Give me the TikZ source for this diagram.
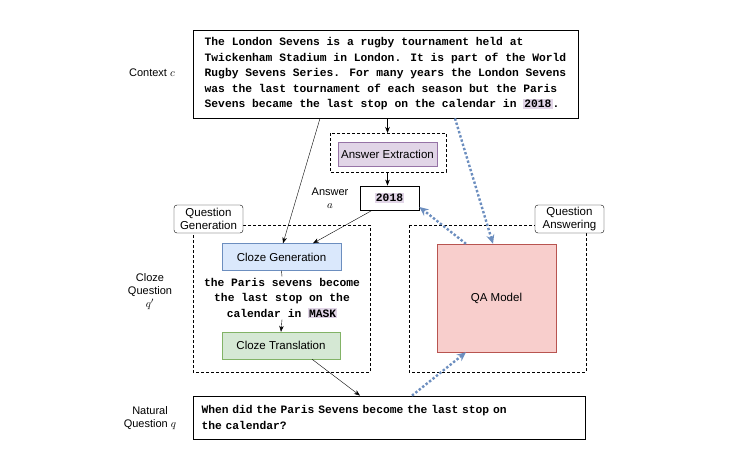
\documentclass[tikz,border=0pt]{standalone}
\usepackage{fontspec}
\setmainfont{Liberation Sans}
\newfontfamily\codefont[WordSpace={1,0,0}]{Liberation Mono}
\usetikzlibrary{positioning,arrows.meta}
\definecolor{hlpurple}{HTML}{E1D5E7}
\definecolor{purpleline}{HTML}{9673A6}
\definecolor{bluefill}{HTML}{DAE8FC}
\definecolor{blueline}{HTML}{6C8EBF}
\definecolor{greenfill}{HTML}{D5E8D4}
\definecolor{greenline}{HTML}{82B366}
\definecolor{redfill}{HTML}{F8CECC}
\definecolor{redline}{HTML}{B85450}
\newcommand{\hlword}[1]{{\setlength{\fboxsep}{1pt}\colorbox{hlpurple}{#1}}}
\tikzset{
	code/.style={font=\codefont\bfseries\fontsize{11.3}{15.5}\selectfont},
	side/.style={font=\fontsize{11}{13}\selectfont, align=center},
	stage/.style={draw, minimum height=27pt, font=\fontsize{11.5}{13}\selectfont},
	group/.style={draw, densely dashed},
	tag/.style={draw, rounded corners=3pt, align=center, fill=white, font=\fontsize{11.5}{13}\selectfont, inner sep=2pt, minimum width=69pt, minimum height=28pt},
	flow/.style={-{Stealth[length=6pt]}},
	qa/.style={blueline, line width=2.4pt, dotted, -{Stealth[length=9pt,width=8pt]}}
}
\begin{document}
\begin{tikzpicture}[x=1pt,y=-1pt]
	\useasboundingbox (0,0) rectangle (750,474);

	% dashed groups
	\draw[group] (330,133) rectangle (446,172);
	\draw[group] (193,225) rectangle (370,372);
	\draw[group] (409,225) rectangle (586,372);
	\node[tag] (qgtag) at (208.5,219) {Question\\Generation};
	\node[tag] (qatag) at (569.5,219) {Question\\Answering};

	% text boxes
	\node[draw, code, thick, minimum width=385pt, minimum height=88pt, align=left] (ctx) at (385.5,74)
		{The London Sevens is a rugby tournament held at\\Twickenham Stadium in London. It is part of the World\\Rugby Sevens Series. For many years the London Sevens\\was the last tournament of each season but the Paris\\Sevens became the last stop on the calendar in \hlword{2018}.};
	\node[stage, fill=hlpurple, draw=purpleline, minimum width=99pt, minimum height=24pt] (ae) at (387.5,154) {Answer Extraction};
	\node[draw, thick, code, minimum width=59pt, minimum height=24pt, inner sep=1pt] (ans) at (389.5,198) {\hlword{2018}};
	\node[stage, fill=bluefill, draw=blueline, minimum width=119pt] (cg) at (281.5,257) {Cloze Generation};
	\node[code, align=center, inner sep=1pt] (cloze) at (282,298)
		{the Paris sevens become\\the last stop on the\\calendar in \hlword{MASK}};
	\node[stage, fill=greenfill, draw=greenline, minimum width=118pt] (ct) at (281,345.5) {Cloze Translation};
	\node[stage, fill=redfill, draw=redline, minimum width=119pt, minimum height=108pt] (qam) at (496.5,298) {QA Model};
	\node[draw, thick, code, minimum width=392pt, minimum height=43pt, align=left, text width=375pt] (nq) at (389,417.5)
		{When did the Paris Sevens become the last stop on\\the calendar?};

	% side labels
	\node[side] (lctx) at (152,73) {Context $c$};
	\node[side] (lans) at (330,198) {Answer\\$a$};
	\node[side] (lcq) at (150,292) {Cloze\\Question\\$q'$};
	\node[side] (lnq) at (150,418) {Natural\\Question $q$};

	% connectors
	\draw[flow] (ctx.south -| 320,0) -- (cg.north -| 283,0);
	\draw[flow] (ctx.south -| ae.north) -- (ae.north |- 0,133);
	\draw[flow] (ae.south |- 0,172) -- (ans.north -| ae.south);
	\draw[flow] (ans.south -| 372,0) -- (cg.north -| 313,0);
	\draw (cg.south) -- (cloze.north);
	\draw[flow] (cloze.south) -- (ct.north);
	\draw[flow] (ct.south -| 312,0) -- (nq.north -| 360,0);

	\draw[qa] (ctx.south -| 455,0) -- (qam.north -| 493,0);
	\draw[qa] (qam.north -| 466,0) -- (ans.east |- 0,207);
	\draw[qa] (nq.north -| 412,0) -- (qam.south -| 466,0);
\end{tikzpicture}
\end{document}
